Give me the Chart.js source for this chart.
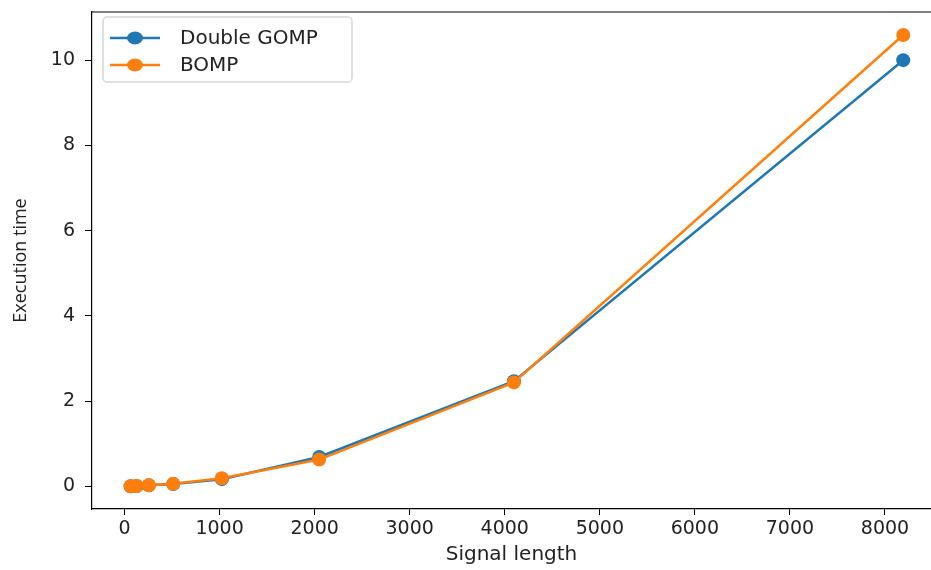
<!DOCTYPE html>
<html>
<head>
<meta charset="utf-8">
<script src="https://cdn.jsdelivr.net/npm/chart.js@4.4.1/dist/chart.umd.min.js"></script>
<style>
  body { margin: 0; background: #fff; }
  #chart { display: block; }
</style>
</head>
<body>
<canvas id="chart" width="931" height="570"></canvas>
<script>
"use strict"
const signalLength = [64, 128, 256, 512, 1024, 2048, 4096, 8192];
const doubleGomp = [0.004, 0.008, 0.025, 0.055, 0.17, 0.69, 2.47, 10.0];
const bomp = [0.004, 0.008, 0.028, 0.06, 0.19, 0.63, 2.44, 10.59];
const seriesNames = ["Double GOMP", "BOMP"];
const xTicks = [0, 1000, 2000, 3000, 4000, 5000, 6000, 7000, 8000];
const yTicks = [0, 2, 4, 6, 8, 10];

const blue = "#1f77b4";
const orange = "#ff7f0e";
const fontFamily = "'DejaVu Sans', sans-serif";

const toPoints = (ys) => signalLength.map((x, i) => ({ x: x, y: ys[i] }));

// top frame line + matplotlib-like legend
const framePlugin = {
    id: "frame",
    afterDraw(chart) {
        const ctx = chart.ctx;
        const area = chart.chartArea;
        ctx.save();
        ctx.strokeStyle = "#000";
        ctx.lineWidth = 1.2;
        ctx.beginPath();
        ctx.moveTo(area.left, area.top);
        ctx.lineTo(area.right, area.top);
        ctx.stroke();

        // legend box
        const bx = 103, by = 17, bw = 249, bh = 65;
        ctx.fillStyle = "rgba(255,255,255,0.8)";
        ctx.strokeStyle = "#d6d6d6";
        ctx.lineWidth = 1.5;
        ctx.beginPath();
        ctx.roundRect(bx, by, bw, bh, 4);
        ctx.fill();
        ctx.stroke();

        chart.data.datasets.forEach((ds, i) => {
            const cy = 38 + i * 27;
            ctx.strokeStyle = ds.borderColor;
            ctx.lineWidth = 2.5;
            ctx.beginPath();
            ctx.moveTo(110, cy);
            ctx.lineTo(160, cy);
            ctx.stroke();
            ctx.fillStyle = ds.backgroundColor;
            ctx.beginPath();
            ctx.ellipse(135, cy, 8, 6.5, 0, 0, Math.PI * 2);
            ctx.fill();
            ctx.fillStyle = "#222";
            ctx.font = "20px " + fontFamily;
            ctx.textBaseline = "middle";
            ctx.textAlign = "left";
            ctx.fillText(ds.label, 180, cy + 1);
        });
        ctx.restore();
    }
};

const ctx = document.getElementById("chart");
new Chart(ctx, {
    type: "line",
    data: {
        datasets: [
            {
                label: seriesNames[0],
                data: toPoints(doubleGomp),
                borderColor: blue,
                backgroundColor: blue,
                borderWidth: 2.5,
                pointRadius: 7,
                pointBorderWidth: 0,
                pointBackgroundColor: blue,
                order: 1,
            },
            {
                label: seriesNames[1],
                data: toPoints(bomp),
                borderColor: orange,
                backgroundColor: orange,
                borderWidth: 2.5,
                pointRadius: 7,
                pointBorderWidth: 0,
                pointBackgroundColor: orange,
                order: 0,
            },
        ],
    },
    plugins: [framePlugin],
    options: {
        responsive: false,
        animation: false,
        layout: {
            autoPadding: false,
            padding: { top: 12, right: 0, left: 0, bottom: 0 },
        },
        plugins: {
            legend: { display: false },
            tooltip: { enabled: false },
        },
        scales: {
            x: {
                type: "linear",
                min: -342,
                max: 8484,
                afterBuildTicks: (scale) => {
                    scale.ticks = xTicks.map((v) => ({ value: v }));
                },
                afterFit: (scale) => {
                    scale.height = 61;
                    scale.paddingLeft = 0;
                    scale.paddingRight = 0;
                },
                grid: {
                    drawOnChartArea: false,
                    drawTicks: true,
                    tickLength: 6,
                    color: "#000",
                },
                border: { display: true, color: "#000", width: 1.2 },
                ticks: {
                    color: "#222",
                    font: { family: fontFamily, size: 19 },
                    padding: 3,
                    maxRotation: 0,
                    autoSkip: false,
                    callback: (v) => String(v),
                },
                title: {
                    display: true,
                    text: "Signal length",
                    color: "#222",
                    font: { family: fontFamily, size: 20 },
                    padding: { top: 0, bottom: 3 },
                },
            },
            y: {
                type: "linear",
                min: -0.53,
                max: 11.13,
                afterBuildTicks: (scale) => {
                    scale.ticks = yTicks.map((v) => ({ value: v }));
                },
                afterFit: (scale) => {
                    scale.width = 92;
                    scale.paddingTop = 0;
                    scale.paddingBottom = 0;
                },
                grid: {
                    drawOnChartArea: false,
                    drawTicks: true,
                    tickLength: 7,
                    color: "#000",
                },
                border: { display: true, color: "#000", width: 1.2 },
                ticks: {
                    color: "#222",
                    font: { family: fontFamily, size: 19 },
                    padding: 10,
                    callback: (v) => String(v),
                },
                title: {
                    display: true,
                    text: "Execution time",
                    color: "#222",
                    font: { family: "'Open Sans', sans-serif", size: 18 },
                    padding: { top: 10, bottom: 0 },
                },
            },
        },
    },
});
</script>
</body>
</html>
